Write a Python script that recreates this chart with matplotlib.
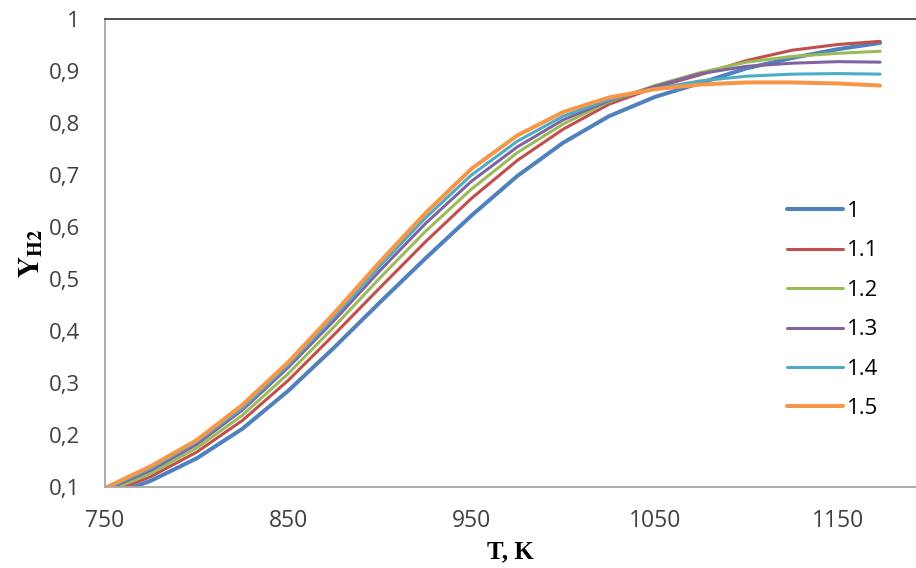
import matplotlib.pyplot as plt

# temperature grid, K
T = [750, 775, 800, 825, 850, 875, 900, 925, 950, 975,
     1000, 1025, 1050, 1075, 1100, 1125, 1150, 1173]

# hydrogen yield for each ratio
y_10 = [0.080, 0.112, 0.155, 0.212, 0.285, 0.368, 0.455, 0.540, 0.622, 0.698,
        0.762, 0.813, 0.850, 0.877, 0.905, 0.925, 0.942, 0.954]
y_11 = [0.085, 0.120, 0.167, 0.228, 0.305, 0.393, 0.483, 0.572, 0.655, 0.728,
        0.788, 0.836, 0.868, 0.893, 0.920, 0.940, 0.951, 0.957]
y_12 = [0.090, 0.126, 0.175, 0.238, 0.318, 0.408, 0.502, 0.592, 0.673, 0.743,
        0.798, 0.841, 0.872, 0.897, 0.917, 0.928, 0.934, 0.938]
y_13 = [0.094, 0.132, 0.182, 0.248, 0.330, 0.420, 0.516, 0.607, 0.688, 0.754,
        0.806, 0.843, 0.870, 0.895, 0.909, 0.915, 0.918, 0.917]
y_14 = [0.096, 0.136, 0.187, 0.252, 0.335, 0.427, 0.525, 0.618, 0.700, 0.765,
        0.813, 0.845, 0.866, 0.881, 0.890, 0.894, 0.895, 0.894]
y_15 = [0.098, 0.140, 0.190, 0.258, 0.340, 0.434, 0.533, 0.627, 0.712, 0.776,
        0.821, 0.849, 0.865, 0.874, 0.878, 0.878, 0.876, 0.872]

labels = ['1', '1.1', '1.2', '1.3', '1.4', '1.5']
colors = ['#4F81BD', '#C0504D', '#9BBB59', '#8064A2', '#4BACC6', '#F79646']
widths = [2.9, 2.2, 2.2, 2.2, 2.2, 2.9]

x_ticks = [750, 850, 950, 1050, 1150]
y_ticks = [0.1, 0.2, 0.3, 0.4, 0.5, 0.6, 0.7, 0.8, 0.9, 1.0]
y_tick_labels = ['0,1', '0,2', '0,3', '0,4', '0,5', '0,6', '0,7', '0,8', '0,9', '1']

plt.rcParams['font.family'] = ['Open Sans', 'DejaVu Sans']
plt.rcParams['mathtext.fontset'] = 'stix'

fig = plt.figure(figsize=(9.16, 5.68), dpi=100)
ax = fig.add_axes([105 / 916, 1 - 487 / 568, 1 - 105 / 916, (487 - 19) / 568])

series = [y_10, y_11, y_12, y_13, y_14, y_15]
for ys, lab, c, w in zip(series, labels, colors, widths):
    ax.plot(T, ys, color=c, linewidth=w, label=lab,
            solid_capstyle='round', solid_joinstyle='round')

ax.set_xlim(750, 1192.6)
ax.set_ylim(0.1, 1.0)
ax.set_xticks(x_ticks)
ax.set_xticklabels([str(v) for v in x_ticks],
                   family=['Liberation Sans Narrow', 'Open Sans'], fontsize=16.5)
ax.set_yticks(y_ticks)
ax.set_yticklabels(y_tick_labels, fontsize=16)
ax.tick_params(length=0, colors='#404040')
ax.tick_params(axis='x', pad=16)
ax.tick_params(axis='y', pad=18)

ax.spines['right'].set_visible(False)
ax.spines['top'].set_color('#404040')
ax.spines['left'].set_color('#A6A6A6')
ax.spines['bottom'].set_color('#A6A6A6')
for s in ax.spines.values():
    s.set_linewidth(1.3)

ax.set_xlabel('T, K', fontsize=18, fontweight='bold', family='Liberation Serif', labelpad=5)
ax.set_ylabel(r'$\mathbf{Y}_{\mathbf{H2}}$', fontsize=21, labelpad=2)

ax.legend(loc='upper left', bbox_to_anchor=(787 / 916, 1 - 201 / 568),
          bbox_transform=fig.transFigure, frameon=False, fontsize=16,
          handlelength=2.5, labelspacing=0.83, handletextpad=0.2,
          borderpad=0, borderaxespad=0)

fig.savefig('out.png', dpi=100)
